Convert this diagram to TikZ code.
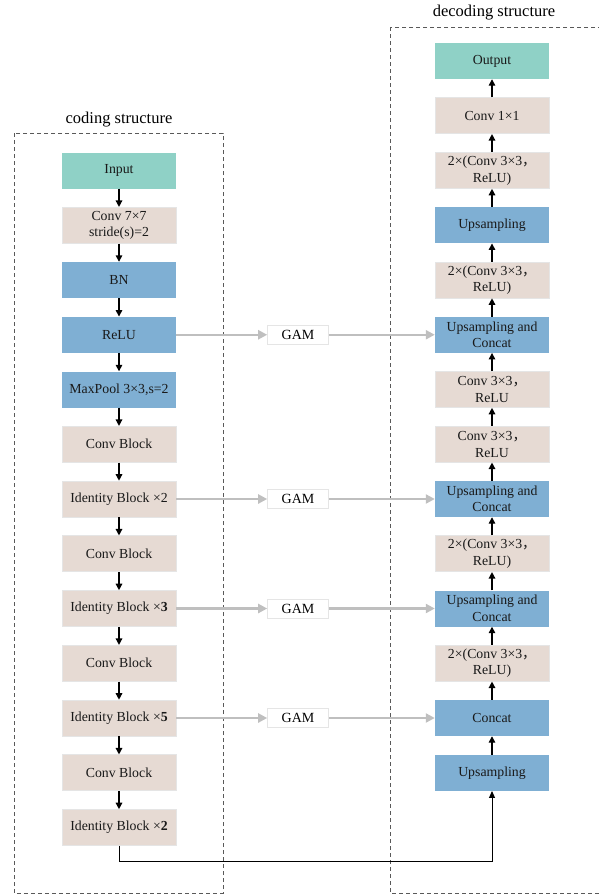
\documentclass[tikz,border=0pt]{standalone}
\usepackage{fontspec}
\setmainfont{Liberation Serif}
\newfontfamily\cjk{Noto Sans CJK SC}
\usetikzlibrary{arrows.meta}
\definecolor{tealc}{HTML}{8FD1C6}
\definecolor{beigec}{HTML}{E6DAD3}
\definecolor{bluec}{HTML}{7FAFD3}
\definecolor{grayarr}{HTML}{BFBFBF}
\definecolor{dashc}{HTML}{595959}
\newcommand{\cm}{{\cjk ，}}
\begin{document}
\begin{tikzpicture}[x=1pt,y=-1pt,
  blk/.style={minimum width=114pt, minimum height=36pt, inner sep=0pt, align=center,
    font=\fontsize{13.8}{16.5}\selectfont, text=black!90},
  tealbox/.style={blk, fill=tealc},
  beigebox/.style={blk, fill=beigec, draw=black!10, line width=0.6pt},
  bluebox/.style={blk, fill=bluec},
  gambox/.style={draw=black!10, fill=white, line width=0.6pt, minimum width=61pt, minimum height=19pt, inner sep=0pt,
    font=\fontsize{14}{16}\selectfont},
  dn/.style={-{Triangle[length=6.5pt,width=6.5pt]}, line width=1.4pt, black},
  gar/.style={-{Triangle[length=9pt,width=9pt]}, line width=2.2pt, grayarr},
  frame/.style={draw=dashc, line width=0.9pt, dash pattern=on 4pt off 3pt},
  lab/.style={font=\fontsize{16.5}{18}\selectfont, inner sep=0pt}
]
\useasboundingbox (0,0) rectangle (598,894);
% frames
\draw[frame] (14,133) rectangle (223,893);
\draw[frame] (390,27) rectangle (610,893);
\node[lab] (lc) at (119,120) {coding structure};
\node[lab] (ld) at (494,13) {decoding structure};
% left column
\node[tealbox]  (in)  at (119,170.5) {Input};
\node[beigebox] (c7)  at (119,225.25) {Conv 7×7\\stride(s)=2};
\node[bluebox]  (bn)  at (119,280) {BN};
\node[bluebox]  (re)  at (119,334.75) {ReLU};
\node[bluebox]  (mp)  at (119,389.5) {MaxPool 3×3,s=2};
\node[beigebox] (cb1) at (119,444.25) {Conv Block};
\node[beigebox] (id1) at (119,499) {Identity Block ×2};
\node[beigebox] (cb2) at (119,553.75) {Conv Block};
\node[beigebox] (id2) at (119,608.5) {Identity Block ×\textbf{3}};
\node[beigebox] (cb3) at (119,663.25) {Conv Block};
\node[beigebox] (id3) at (119,718) {Identity Block ×\textbf{5}};
\node[beigebox] (cb4) at (119,772.75) {Conv Block};
\node[beigebox] (id4) at (119,827.5) {Identity Block ×\textbf{2}};
% right column
\node[tealbox]  (out) at (492,61) {Output};
\node[beigebox] (c1)  at (492,115.75) {Conv 1×1};
\node[beigebox] (r1)  at (492,170.5) {2×(Conv 3×3\cm\\ReLU)};
\node[bluebox]  (u1)  at (492,225.25) {Upsampling};
\node[beigebox] (r2)  at (492,280) {2×(Conv 3×3\cm\\ReLU)};
\node[bluebox]  (uc1) at (492,334.75) {Upsampling and\\Concat};
\node[beigebox] (r3)  at (492,389.5) {Conv 3×3\cm\\ReLU};
\node[beigebox] (r4)  at (492,444.25) {Conv 3×3\cm\\ReLU};
\node[bluebox]  (uc2) at (492,499) {Upsampling and\\Concat};
\node[beigebox] (r5)  at (492,553.75) {2×(Conv 3×3\cm\\ReLU)};
\node[bluebox]  (uc3) at (492,608.5) {Upsampling and\\Concat};
\node[beigebox] (r6)  at (492,663.25) {2×(Conv 3×3\cm\\ReLU)};
\node[bluebox]  (cc)  at (492,718) {Concat};
\node[bluebox]  (u0)  at (492,772.75) {Upsampling};
% GAM
\node[gambox] (g1) at (298,334.75) {GAM};
\node[gambox] (g2) at (298,499) {GAM};
\node[gambox] (g3) at (298,608.5) {GAM};
\node[gambox] (g4) at (298,718) {GAM};
% left arrows
\foreach \a/\b in {in/c7,c7/bn,bn/re,re/mp,mp/cb1,cb1/id1,id1/cb2,cb2/id2,id2/cb3,cb3/id3,id3/cb4,cb4/id4}
  \draw[dn] (\a.south) -- (\b.north);
% right arrows
\foreach \a/\b in {u0/cc,cc/r6,r6/uc3,uc3/r5,r5/uc2,uc2/r4,r4/r3,r3/uc1,uc1/r2,r2/u1,u1/r1,r1/c1,c1/out}
  \draw[dn] (\a.north) -- (\b.south);
% gray arrows
\foreach \a/\g/\b in {re/g1/uc1,id1/g2/uc2,id2/g3/uc3,id3/g4/cc}{
  \draw[gar] (\a.east) -- (\g.west);
  \draw[gar] (\g.east) -- (\b.west);
}
% bottom connector
\coordinate (bend) at (119,861);
\draw[line width=1pt, -{Triangle[length=7pt,width=6pt]}] (id4.south) -- (bend) -| (u0.south);
\end{tikzpicture}
\end{document}
